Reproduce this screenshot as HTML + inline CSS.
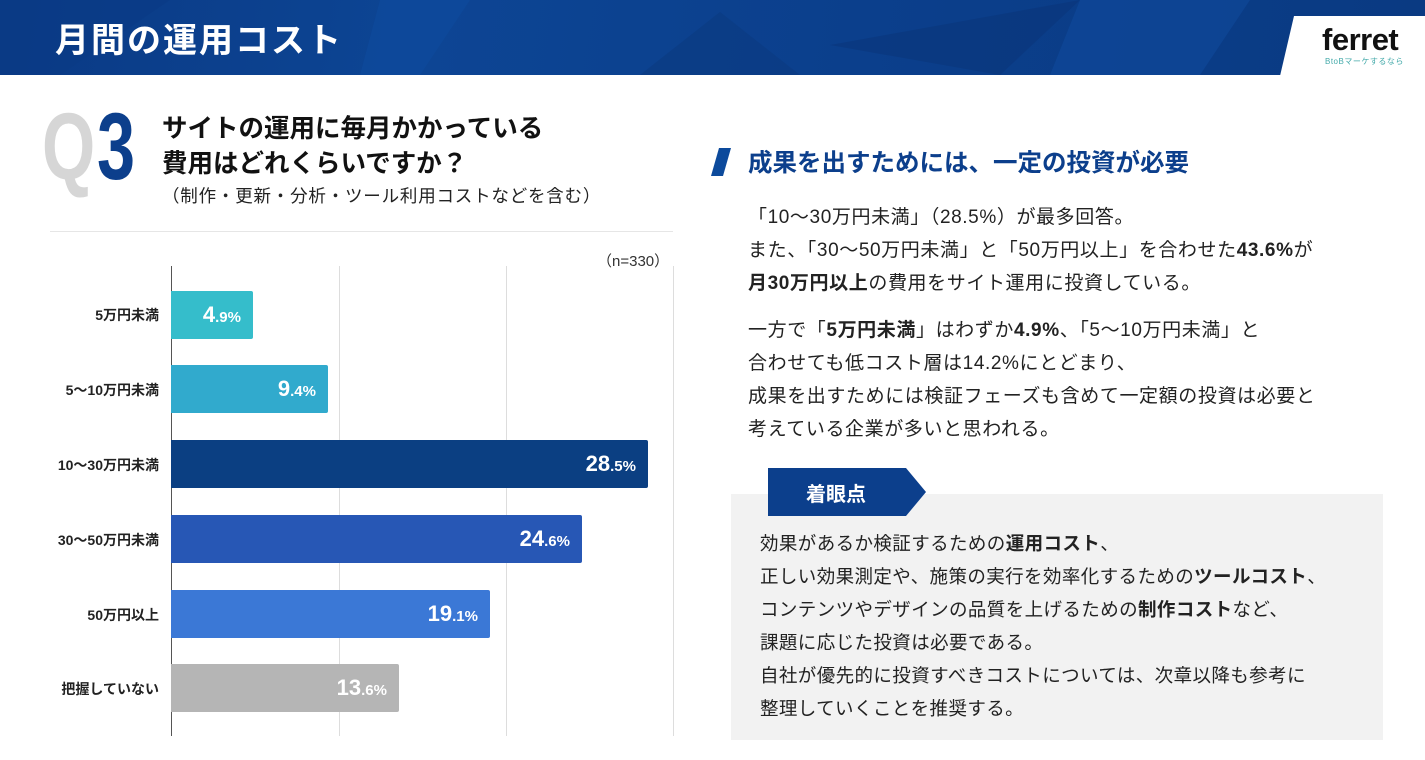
<!DOCTYPE html>
<html><head><meta charset="utf-8"><style>
body{margin:0;width:1425px;height:760px;position:relative;background:#fff;font-family:"Liberation Sans","Noto Sans CJK JP",sans-serif;overflow:hidden;color:#222}
.a{position:absolute}
.hdr{left:0;top:0;width:1425px;height:75px;background:linear-gradient(100deg,#0a3a85 0%,#0d4594 30%,#0b3f8c 60%,#0a3a82 100%);overflow:hidden}
.bar{position:absolute;left:171px;height:48px;border-radius:0 2px 2px 0;color:#fff;font-weight:bold;font-size:22px;text-align:right;line-height:48px;box-sizing:border-box;padding-right:12px}
.bar small{font-size:15px}
.lab{position:absolute;right:1266px;font-size:14px;font-weight:bold;white-space:nowrap}
.g{position:absolute;top:266px;height:470px;width:1px;background:#ddd}
.t{font-size:19px;line-height:33px;letter-spacing:0.6px;white-space:nowrap}
.t2{font-size:18.5px;line-height:33px;letter-spacing:0.4px;white-space:nowrap}
</style></head><body>
<div class="a hdr">
<svg width="1425" height="75" style="position:absolute;left:0;top:0">
<polygon points="0,0 170,0 60,75 0,75" fill="#0a3a86" opacity=".6"/>
<polygon points="380,0 470,0 420,75 360,75" fill="#0e4a9c" opacity=".7"/>
<polygon points="640,75 720,12 800,75" fill="#0c3b80" opacity=".6"/>
<polygon points="830,45 1080,0 1000,75" fill="#0a3477" opacity=".5"/>
<polygon points="1080,0 1250,0 1200,75 1050,75" fill="#0f4c9f" opacity=".5"/>
</svg>
<div class="a" style="left:55px;top:13px;font-size:34px;font-weight:bold;color:#fff;letter-spacing:2px">月間の運用コスト</div>
</div>
<svg class="a" style="left:1280px;top:16px" width="145" height="60"><polygon points="14,0 145,0 145,60 0,60" fill="#fff"/></svg>
<div class="a" style="left:1322px;top:22px;font-size:31px;font-weight:bold;color:#111;letter-spacing:-0.5px">ferret</div>
<div class="a" style="left:1325px;top:56px;font-size:8px;color:#4aa;letter-spacing:.5px">BtoBマーケするなら</div>

<div class="a" style="left:42px;top:92px;font-size:95px;font-weight:bold;color:#d6d6d6;line-height:110px;transform:scaleX(.72);transform-origin:left">Q</div>
<div class="a" style="left:97px;top:92px;font-size:95px;font-weight:bold;color:#0c3f8c;line-height:110px;transform:scaleX(.72);transform-origin:left">3</div>
<div class="a" style="left:162px;top:112px;font-size:25.5px;font-weight:bold;line-height:35px;color:#111">サイトの運用に毎月かかっている<br>費用はどれくらいですか？</div>
<div class="a" style="left:162px;top:183px;font-size:17.5px;letter-spacing:0.8px;color:#222;white-space:nowrap">（制作・更新・分析・ツール利用コストなどを含む）</div>
<div class="a" style="left:50px;top:231px;width:623px;height:1px;background:#e6e6e6"></div>
<div class="a" style="left:597px;top:250px;font-size:15px;color:#333">（n=330）</div>

<div class="a" style="left:171px;top:266px;width:1px;height:470px;background:#555"></div>
<div class="g" style="left:339px"></div><div class="g" style="left:506px"></div><div class="g" style="left:673px"></div>

<div class="bar" style="top:291px;width:82px;background:#35bdcb">4<small>.9%</small></div>
<div class="bar" style="top:365px;width:157px;background:#31aacd">9<small>.4%</small></div>
<div class="bar" style="top:440px;width:477px;background:#0b3f82">28<small>.5%</small></div>
<div class="bar" style="top:515px;width:411px;background:#2757b5">24<small>.6%</small></div>
<div class="bar" style="top:590px;width:319px;background:#3b78d6">19<small>.1%</small></div>
<div class="bar" style="top:664px;width:228px;background:#b5b5b5">13<small>.6%</small></div>
<div class="lab" style="top:305px">5万円未満</div>
<div class="lab" style="top:380px">5〜10万円未満</div>
<div class="lab" style="top:455px">10〜30万円未満</div>
<div class="lab" style="top:530px">30〜50万円未満</div>
<div class="lab" style="top:605px">50万円以上</div>
<div class="lab" style="top:679px">把握していない</div>

<svg class="a" style="left:711px;top:148px" width="28" height="28"><polygon points="8,0 20,0 12,28 0,28" fill="#0c4a9c"/></svg>
<div class="a" style="left:748px;top:144px;font-size:24.5px;font-weight:bold;color:#0c3f8c;white-space:nowrap">成果を出すためには、一定の投資が必要</div>
<div class="a t" style="left:748px;top:201px">「10〜30万円未満」（28.5%）が最多回答。<br>また、「30〜50万円未満」と「50万円以上」を合わせた<b>43.6%</b>が<br><b>月30万円以上</b>の費用をサイト運用に投資している。</div>
<div class="a t" style="left:748px;top:314px">一方で「<b>5万円未満</b>」はわずか<b>4.9%</b>、「5〜10万円未満」と<br>合わせても低コスト層は14.2%にとどまり、<br>成果を出すためには検証フェーズも含めて一定額の投資は必要と<br>考えている企業が多いと思われる。</div>

<div class="a" style="left:731px;top:494px;width:652px;height:246px;background:#f2f2f2"></div>
<svg class="a" style="left:768px;top:468px" width="160" height="48"><polygon points="0,0 138,0 158,24 138,48 0,48" fill="#0c3f8c"/></svg>
<div class="a" style="left:806px;top:478px;font-size:20px;font-weight:bold;color:#fff">着眼点</div>
<div class="a t2" style="left:760px;top:527px">効果があるか検証するための<b>運用コスト</b>、<br>正しい効果測定や、施策の実行を効率化するための<b>ツールコスト</b>、<br>コンテンツやデザインの品質を上げるための<b>制作コスト</b>など、<br>課題に応じた投資は必要である。<br>自社が優先的に投資すべきコストについては、次章以降も参考に<br>整理していくことを推奨する。</div>
</body></html>
